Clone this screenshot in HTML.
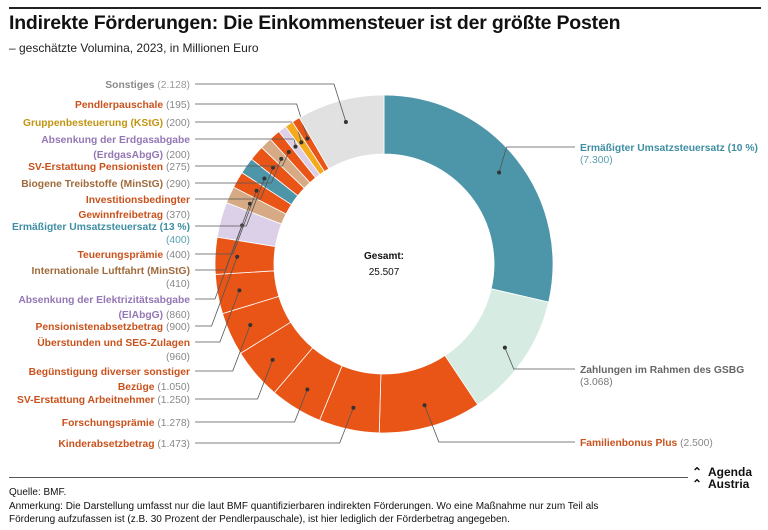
<!DOCTYPE html>
<html><head><meta charset="utf-8">
<style>
body{margin:0;width:768px;height:530px;background:#fff;font-family:"Liberation Sans",sans-serif;overflow:hidden;position:relative}
.t{position:absolute;left:9px;top:12px;font-size:19.5px;font-weight:bold;color:#111;letter-spacing:-0.2px}
.s{position:absolute;left:9px;top:41px;font-size:12px;color:#222}
.foot{position:absolute;left:9px;top:486px;font-size:10px;color:#111;line-height:13.5px}
</style></head><body>
<div style="position:absolute;left:9px;top:7px;width:752px;height:2px;background:#222"></div>
<div class="t">Indirekte Förderungen: Die Einkommensteuer ist der größte Posten</div>
<div class="s">– geschätzte Volumina, 2023, in Millionen Euro</div>
<svg id="chart" width="768" height="470" style="position:absolute;left:0;top:0"></svg>
<div style="position:absolute;left:9px;top:477px;width:679px;height:1px;background:#555"></div>
<div class="foot">Quelle: BMF.<br>Anmerkung: Die Darstellung umfasst nur die laut BMF quantifizierbaren indirekten Förderungen. Wo eine Maßnahme nur zum Teil als<br>Förderung aufzufassen ist (z.B. 30 Prozent der Pendlerpauschale), ist hier lediglich der Förderbetrag angegeben.</div>
<div style="position:absolute;left:692px;top:466px;font-size:12px;font-weight:bold;line-height:12px;color:#111"><span style="display:inline-block;width:16px">⌃</span>Agenda<br><span style="display:inline-block;width:16px">⌃</span>Austria</div>
<script>
const labels=["Ermäßigter Umsatzsteuersatz (10 %)","Zahlungen im Rahmen des GSBG","Familienbonus Plus","Kinderabsetzbetrag","Forschungsprämie","SV-Erstattung Arbeitnehmer","Begünstigung diverser sonstiger|Bezüge","Überstunden und SEG-Zulagen","Pensionistenabsetzbetrag","Absenkung der Elektrizitätsabgabe|(ElAbgG)","Internationale Luftfahrt (MinStG)","Teuerungsprämie","Ermäßigter Umsatzsteuersatz (13 %)","Investitionsbedingter|Gewinnfreibetrag","Biogene Treibstoffe (MinStG)","SV-Erstattung Pensionisten","Absenkung der Erdgasabgabe|(ErdgasAbgG)","Gruppenbesteuerung (KStG)","Pendlerpauschale","Sonstiges"];
const values=[7300,3068,2500,1473,1278,1250,1050,960,900,860,410,400,400,370,290,275,200,200,195,2128];
const valueLabels=["7.300","3.068","2.500","1.473","1.278","1.250","1.050","960","900","860","410","400","400","370","290","275","200","200","195","2.128"];
const kinds=["teal","green","orange","orange","orange","orange","orange","orange","orange","lav","tan","orange","teal","orange","tan","orange","lav","yellow","orange","gray"];
const totalLabel="25.507";
const fill={teal:"#4d96a9",green:"#d6ebe2",orange:"#e85517",lav:"#dccfe8",tan:"#d6aa84",yellow:"#f3aa1f",gray:"#e1e1e1"};
const txt={teal:"#3f8ea3",green:"#666",orange:"#c9521c",lav:"#9477b5",tan:"#a06b3c",yellow:"#c39412",gray:"#8a8a8a"};
const valc={teal:"#5aa0b0",green:"#777",orange:"#888",lav:"#888",tan:"#888",yellow:"#888",gray:"#999"};
// label anchor positions (layout, not data): [x, y of first line, side]
const lp=[[580,151,1],[580,373,1],[580,446,1],[190,447,0],[190,426,0],[190,403,0],[190,375,0],[190,346,0],[190,330,0],[190,303,0],[190,274,0],[190,258,0],[190,230,0],[190,203,0],[190,187,0],[190,170,0],[190,143,0],[190,126,0],[190,108,0],[190,88,0]];
const NS="http://www.w3.org/2000/svg",svg=document.getElementById("chart");
const cx=384,cy=264,R=169,r=110;
const total=values.reduce((a,b)=>a+b,0);
const ang=v=>v/total*2*Math.PI;
const pt=(a,rad)=>[cx+rad*Math.sin(a),cy-rad*Math.cos(a)];
function mk(t,a){const e=document.createElementNS(NS,t);for(const k in a)e.setAttribute(k,a[k]);svg.appendChild(e);return e;}
let acc=0;
values.forEach((v,i)=>{
 const a0=ang(acc),a1=ang(acc+v);acc+=v;
 const [x0,y0]=pt(a0,R),[x1,y1]=pt(a1,R),[x2,y2]=pt(a1,r),[x3,y3]=pt(a0,r);
 const lg=(a1-a0)>Math.PI?1:0;
 const p=mk("path",{d:`M${x0},${y0}A${R},${R} 0 ${lg} 1 ${x1},${y1}L${x2},${y2}A${r},${r} 0 ${lg} 0 ${x3},${y3}Z`,fill:fill[kinds[i]],stroke:"#fff","stroke-width":"0.8"});
 
 
 const am=(a0+a1)/2,[dx,dy]=pt(am,147);
 const [lx,ly,side]=lp[i];
 let sx=side?lx-5:lx+5;
 let kx=side?Math.max(dx+Math.abs(dy-ly)*0.35,dx):Math.min(Math.max(dx-Math.abs(dy-ly)*0.35,sx+8),dx);
 const ln=mk("polyline",{points:`${sx},${ly-4} ${kx},${ly-4} ${dx},${dy}`,fill:"none",stroke:"#555","stroke-width":"0.8"});
 
 
 const c=mk("circle",{cx:dx,cy:dy,r:2,fill:"#333"});
 
 
 const parts=labels[i].split("|");
 const T=mk("text",{x:lx,y:ly,"font-size":"10.3","text-anchor":side?"start":"end","font-family":"Liberation Sans, sans-serif"});
 
 
 parts.forEach((p,j)=>{
  const ts=document.createElementNS(NS,"tspan");ts.setAttribute("x",lx);if(j>0)ts.setAttribute("dy","15");
  const b=document.createElementNS(NS,"tspan");b.setAttribute("font-weight","bold");b.setAttribute("fill",txt[kinds[i]]);b.textContent=p;ts.appendChild(b);
  T.appendChild(ts);
 });
 const vt=document.createElementNS(NS,"tspan");vt.setAttribute("fill",valc[kinds[i]]);
 if(side&&i!==2){vt.setAttribute("x",lx);vt.setAttribute("dy","12");vt.textContent="("+valueLabels[i]+")";}
 else if(i===12){vt.setAttribute("x",lx);vt.setAttribute("dy","13");vt.textContent="("+valueLabels[i]+")";}
 else if(i===10){vt.setAttribute("x",lx);vt.setAttribute("dy","13");vt.textContent="("+valueLabels[i]+")";}
 else if(i===7){vt.setAttribute("x",lx);vt.setAttribute("dy","14");vt.textContent="("+valueLabels[i]+")";}
 else vt.textContent=" ("+valueLabels[i]+")";
 T.appendChild(vt);
});
const g1=mk("text",{x:cx,y:cy-5,"text-anchor":"middle","font-size":"10","font-weight":"bold",fill:"#111"});g1.textContent="Gesamt:";


const g2=mk("text",{x:cx,y:cy+11,"text-anchor":"middle","font-size":"10",fill:"#111"});g2.textContent=totalLabel;


</script>
</body></html>
